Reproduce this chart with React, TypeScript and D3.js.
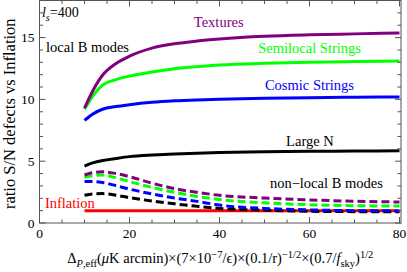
import React, { useEffect, useRef } from 'react';
import * as d3 from 'd3';

// sample points along the noise axis
const xs = [10, 12, 14, 17, 20, 25, 30, 35, 40, 50, 60, 70, 80];

// local B modes (solid)
const textures = [9.3, 10.8, 11.95, 12.9, 13.5, 14.15, 14.5, 14.72, 14.88, 15.1, 15.22, 15.3, 15.37];
const semilocal = [9.2, 10.35, 11.15, 11.6, 11.88, 12.22, 12.48, 12.65, 12.78, 12.92, 13.0, 13.06, 13.1];
const cosmic = [8.3, 8.85, 9.2, 9.42, 9.57, 9.76, 9.88, 9.96, 10.02, 10.1, 10.14, 10.18, 10.2];
const largeN = [4.6, 4.88, 5.05, 5.22, 5.37, 5.5, 5.58, 5.65, 5.7, 5.76, 5.8, 5.82, 5.84];

// non-local B modes (dashed)
const texturesNL = [3.88, 4.08, 4.15, 4.0, 3.75, 3.22, 2.78, 2.48, 2.24, 2.02, 1.87, 1.76, 1.7];
const semilocalNL = [3.7, 3.84, 3.88, 3.65, 3.35, 2.88, 2.48, 2.15, 1.9, 1.63, 1.48, 1.4, 1.37];
const cosmicNL = [3.35, 3.35, 3.28, 3.02, 2.74, 2.35, 2.02, 1.75, 1.45, 1.18, 1.06, 1.0, 0.98];
const largeNNL = [2.25, 2.36, 2.38, 2.25, 2.05, 1.78, 1.55, 1.35, 1.18, 1.04, 0.95, 0.92, 0.9];

const inflation = xs.map(() => 1);

const xMajor = [0, 20, 40, 60, 80];
const yMajor = [0, 5, 10, 15];

const App = () => {
    const ref = useRef<SVGSVGElement>(null);

    useEffect(() => {
        const width = 407;
        const height = 272;
        const margin = { top: 0.5, right: 6, bottom: 49, left: 39.5 };
        const font = "'Liberation Serif', 'Times New Roman', serif";

        const svg = d3.select(ref.current);
        svg.selectAll('*').remove();
        svg.attr('width', width).attr('height', height);

        const x = d3.scaleLinear().domain([0, 80.33]).range([margin.left, width - margin.right]);
        const y = d3.scaleLinear().domain([0, 18]).range([height - margin.bottom, margin.top]);

        const line = (vals: number[]) =>
            d3.line<number>()
                .x((_, i) => x(xs[i]))
                .y(d => y(d))
                .curve(d3.curveMonotoneX)(vals);

        const series = [
            { vals: inflation, color: '#ff0000', dash: null },
            { vals: largeNNL, color: '#000000', dash: '8,4' },
            { vals: cosmicNL, color: '#0000ff', dash: '8,4' },
            { vals: semilocalNL, color: '#00ff00', dash: '8,4' },
            { vals: texturesNL, color: '#800080', dash: '8,4' },
            { vals: largeN, color: '#000000', dash: null },
            { vals: cosmic, color: '#0000ff', dash: null },
            { vals: semilocal, color: '#00ff00', dash: null },
            { vals: textures, color: '#800080', dash: null },
        ];

        series.forEach(s => {
            svg.append('path')
                .attr('d', line(s.vals))
                .attr('fill', 'none')
                .attr('stroke', s.color)
                .attr('stroke-width', 3)
                .attr('stroke-dasharray', s.dash);
        });

        // frame + inward ticks
        const [x0, x1] = x.range();
        const [y0, y1] = y.range();
        svg.append('rect')
            .attr('x', x0).attr('y', y1)
            .attr('width', x1 - x0).attr('height', y0 - y1)
            .attr('fill', 'none').attr('stroke', '#555').attr('stroke-width', 1);

        const tickG = svg.append('g').attr('stroke', '#555').attr('stroke-width', 1);
        d3.range(0, 81, 5).forEach(v => {
            const len = v % 20 === 0 ? 6 : 3.5;
            tickG.append('line').attr('x1', x(v)).attr('x2', x(v)).attr('y1', y0).attr('y2', y0 - len);
            tickG.append('line').attr('x1', x(v)).attr('x2', x(v)).attr('y1', y1).attr('y2', y1 + len);
        });
        d3.range(0, 18.5, 1).forEach(v => {
            const len = v % 5 === 0 ? 6 : 3.5;
            tickG.append('line').attr('x1', x0).attr('x2', x0 + len).attr('y1', y(v)).attr('y2', y(v));
            tickG.append('line').attr('x1', x1).attr('x2', x1 - len).attr('y1', y(v)).attr('y2', y(v));
        });

        // tick labels
        svg.append('g').selectAll('text').data(xMajor).enter().append('text')
            .attr('x', d => x(d)).attr('y', y0 + 15)
            .attr('text-anchor', 'middle')
            .attr('font-family', font).attr('font-size', 13.5)
            .text(d => d);
        svg.append('g').selectAll('text').data(yMajor).enter().append('text')
            .attr('x', x0 - 5).attr('y', d => y(d) + 4.5)
            .attr('text-anchor', 'end')
            .attr('font-family', font).attr('font-size', 13.5)
            .text(d => d);

        // annotations
        const notes = [
            { t: 'local B modes', c: '#000', px: 1.45, py: 13.81 },
            { t: 'Textures', c: '#800080', px: 34.3, py: 15.83 },
            { t: 'Semilocal Strings', c: '#00ff00', px: 48.6, py: 13.73 },
            { t: 'Cosmic Strings', c: '#0000ff', px: 50.1, py: 10.74 },
            { t: 'Large N', c: '#000', px: 54.8, py: 6.22 },
            { t: 'non\u2212local B modes', c: '#000', px: 51.2, py: 2.83 },
            { t: 'Inflation', c: '#ff0000', px: 1.2, py: 1.21 },
        ];
        notes.forEach(n => {
            svg.append('text')
                .attr('x', x(n.px)).attr('y', y(n.py))
                .attr('fill', n.c)
                .attr('font-family', font).attr('font-size', 14.5)
                .text(n.t);
        });

        const ls = svg.append('text')
            .attr('x', x(0.55)).attr('y', y(16.64))
            .attr('font-family', font).attr('font-size', 14);
        ls.append('tspan').attr('font-style', 'italic').text('l');
        ls.append('tspan').attr('font-style', 'italic').attr('font-size', 10).attr('dy', 3.5).text('s');
        ls.append('tspan').attr('dy', -3.5).text('=400');

        // axis titles
        svg.append('text')
            .attr('transform', `translate(15,${(y0 + y1) / 2 + 2}) rotate(-90)`)
            .attr('text-anchor', 'middle')
            .attr('font-family', font).attr('font-size', 16.5)
            .text('ratio S/N defects vs Inflation');

        const parts: [string, string, boolean][] = [
            ['\u0394', 'n', false],
            ['P', 'sub', true],
            [',eff', 'sub', false],
            ['(', 'n', false],
            ['\u03bc', 'n', true],
            ['K arcmin)\u00d7(7\u00d710', 'n', false],
            ['\u22127', 'sup', false],
            ['/\u03f5)\u00d7(0.1/r)', 'n', false],
            ['\u22121/2', 'sup', false],
            ['\u00d7(0.7/', 'n', false],
            ['f', 'n', true],
            ['sky', 'sub', false],
            [')', 'n', false],
            ['1/2', 'sup', false],
        ];
        const shift: Record<string, number> = { n: 0, sub: 3.5, sup: -5.5 };
        const xl = svg.append('text')
            .attr('x', (x0 + x1) / 2).attr('y', 263)
            .attr('text-anchor', 'middle')
            .attr('font-family', font).attr('font-size', 14.5);
        let cur = 0;
        parts.forEach(([t, k, it]) => {
            xl.append('tspan')
                .attr('dy', shift[k] - cur)
                .attr('font-size', k === 'n' ? 14.5 : 10.5)
                .attr('font-style', it ? 'italic' : 'normal')
                .text(t);
            cur = shift[k];
        });
    }, []);

    return <svg ref={ref} style={{ position: 'absolute', left: 0, top: 0 }}></svg>;
};

export default App;
